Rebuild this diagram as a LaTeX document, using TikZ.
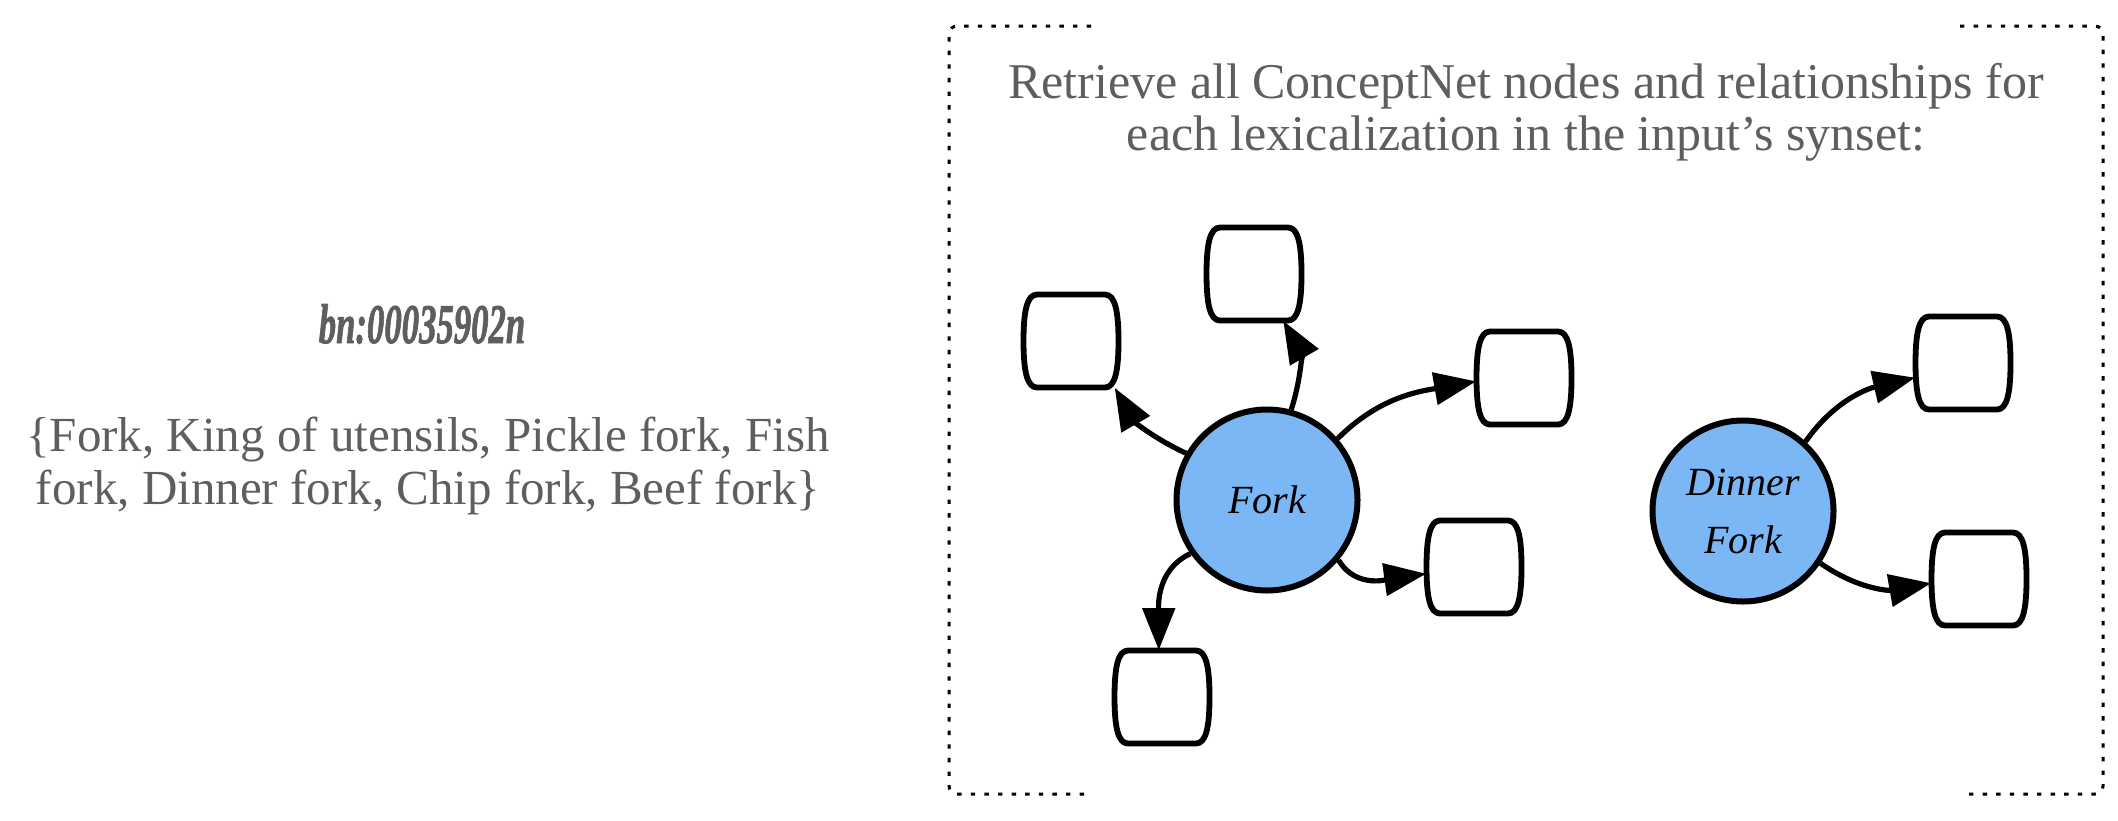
\documentclass[tikz,border=0pt]{standalone}
\usepackage{fontspec}
\usepackage{graphicx}
\setmainfont{Liberation Serif}
\newfontfamily\bnfont[FakeBold=1.6]{Liberation Serif}
\usetikzlibrary{arrows.meta}
\definecolor{txtgray}{HTML}{5E5E5E}
\definecolor{circblue}{HTML}{7BB6F5}
\tikzset{
  conc/.style={circle, draw=black, line width=3pt, fill=circblue, minimum size=90.5pt, inner sep=0pt, align=center, font=\fontsize{20}{29}\selectfont\itshape},
  boxn/.style={rectangle, draw=none, minimum width=47.5pt, minimum height=46.5pt, inner sep=0pt},
  boxline/.style={draw=black, line width=2.9pt, fill=white, line join=round},
  arr/.style={draw=black, line width=2.6pt, -{Triangle[length=21pt,width=16pt]}},
  frame/.style={draw=black, line width=1.5pt, dash pattern=on 2.2pt off 4.6pt, rounded corners=4pt},
  gtxt/.style={text=txtgray, align=center, inner sep=0pt}
}
\newcommand\cbox[2]{%
  \node[boxn] (#1) at (#2) {};
  \path[boxline] ([shift={(-34,46.5)}]#1.center) -- ([shift={(34,46.5)}]#1.center)
   .. controls ([shift={(44,46.5)}]#1.center) and ([shift={(47.5,30)}]#1.center) .. ([shift={(47.5,0)}]#1.center)
   .. controls ([shift={(47.5,-30)}]#1.center) and ([shift={(44,-46.5)}]#1.center) .. ([shift={(34,-46.5)}]#1.center)
   -- ([shift={(-34,-46.5)}]#1.center)
   .. controls ([shift={(-44,-46.5)}]#1.center) and ([shift={(-47.5,-30)}]#1.center) .. ([shift={(-47.5,0)}]#1.center)
   .. controls ([shift={(-47.5,30)}]#1.center) and ([shift={(-44,46.5)}]#1.center) .. cycle;}
\begin{document}
\begin{tikzpicture}[x=0.5pt,y=0.5pt]
\useasboundingbox (0,0) rectangle (2118,-820);
% left text
\node[gtxt, font=\bnfont\fontsize{28}{28}\selectfont\bfseries\itshape] (bn) at (422,-324) {\scalebox{0.62}[1]{bn:00035902n}};
\node[gtxt, font=\fontsize{24.5}{26.5}\selectfont] (syn) at (428,-466) {\{Fork, King of utensils, Pickle fork, Fish\\fork, Dinner fork, Chip fork, Beef fork\}};
% frame
\coordinate (ftl) at (1091,-26);
\coordinate (fbl) at (1093,-794);
\coordinate (ftr) at (1960,-26);
\coordinate (fbr) at (1962,-794);
\draw[frame] (ftl) -- (949,-26) -- (949,-794) -- (fbl);
\draw[frame] (ftr) -- (2103,-26) -- (2103,-794) -- (fbr);
% title
\node[gtxt, font=\fontsize{25}{26}\selectfont] (title) at (1526,-112) {Retrieve all ConceptNet nodes and relationships for\\each lexicalization in the input's synset:};
% concept nodes
\node[conc] (fork) at (1267,-500) {Fork};
\node[conc] (df) at (1743,-511) {Dinner\\Fork};
% boxes
\cbox{tl}{1071,-341}
\cbox{tp}{1254,-274}
\cbox{rt}{1524,-378}
\cbox{lr}{1474,-567}
\cbox{bt}{1162,-697}
\cbox{da}{1963,-363}
\cbox{db}{1979,-579}
% arrows
\draw[arr] (fork.150) to[out=155,in=-60] (tl.-47);
\draw[arr] (fork.75) to[out=72,in=-60] (tp.-58);
\draw[arr] (fork.41) to[out=45,in=190] (rt.184);
\draw[arr] (fork.-40) to[out=-60,in=188] (lr.188);
\draw[arr] (fork.215) to[out=205,in=90] (bt.94);
\draw[arr] (df.48) to[out=55,in=193] (da.197);
\draw[arr] (df.-34) to[out=-35,in=190] (db.185);
\end{tikzpicture}
\end{document}
